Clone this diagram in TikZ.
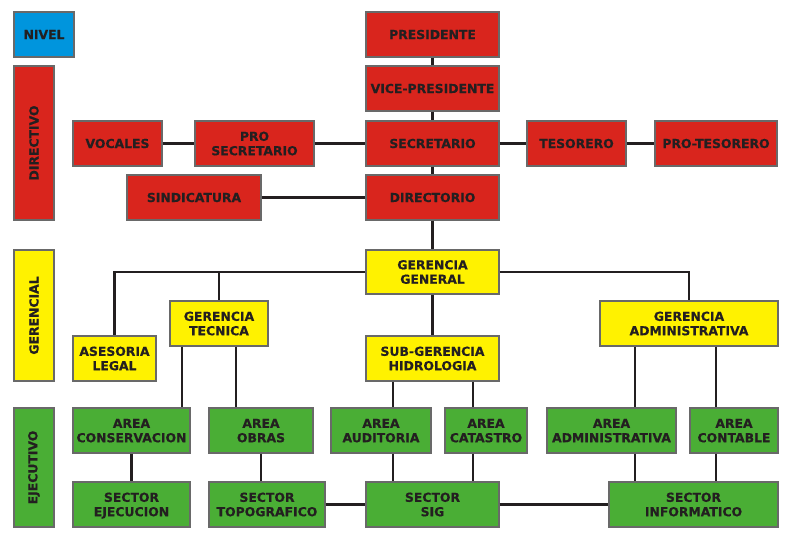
\documentclass[tikz,border=0pt]{standalone}
\usepackage{fontspec}
\setmainfont{DejaVu Sans}[BoldFeatures={FakeBold=0.5}]
\definecolor{rojo}{RGB}{217,37,29}
\definecolor{amarillo}{RGB}{255,242,0}
\definecolor{verde}{RGB}{74,174,53}
\definecolor{celeste}{RGB}{0,149,221}
\definecolor{borde}{RGB}{105,105,105}
\definecolor{tinta}{RGB}{35,31,32}
\begin{document}
\begin{tikzpicture}[x=0.75pt,y=0.75pt,yscale=-1,xscale=1,
    caja/.style={draw=borde, line width=0.8pt, inner sep=0pt, align=center, text=tinta,
                 minimum height=33.75pt, text height=6.8pt, text depth=0pt,
                 font=\bfseries\fontsize{9.3}{10.8}\selectfont},
    doble/.style={text height=17.6pt},
    cajaroja/.style={caja, fill=rojo},
    cajaamarilla/.style={caja, fill=amarillo},
    cajaverde/.style={caja, fill=verde},
    enlace/.style={draw=tinta, line width=1.9pt}]
            \useasboundingbox (0,0) rectangle (791,541);

            %Shape: Niveles
            \node (nivel) [caja, fill=celeste, minimum width=45pt] at (44,34.5) {NIVEL};
            \node (directivo) [cajaroja, text height=, text depth=, minimum width=30pt, minimum height=115.5pt] at (34,143) {\rotatebox{90}{DIRECTIVO}};
            \node (gerencial) [cajaamarilla, text height=, text depth=, minimum width=30pt, minimum height=98.25pt] at (34,315.5) {\rotatebox{90}{GERENCIAL}};
            \node (ejecutivo) [cajaverde, text height=, text depth=, minimum width=30pt, minimum height=89.25pt] at (34,467.5) {\rotatebox{90}{EJECUTIVO}};

            %Shape: Directivo
            \node (pres) [cajaroja, minimum width=99.75pt] at (432.5,34.5) {PRESIDENTE};
            \node (vice) [cajaroja, minimum width=99.75pt] at (432.5,88.5) {VICE-PRESIDENTE};
            \node (secr) [cajaroja, minimum width=99.75pt] at (432.5,143.5) {SECRETARIO};
            \node (dirio) [cajaroja, minimum width=99.75pt] at (432.5,197.5) {DIRECTORIO};
            \node (voc) [cajaroja, minimum width=66.75pt] at (117.5,143.5) {VOCALES};
            \node (prosec) [cajaroja, doble, minimum width=89.25pt] at (254.5,143.5) {PRO\\SECRETARIO};
            \node (tes) [cajaroja, minimum width=74.25pt] at (576.5,143.5) {TESORERO};
            \node (protes) [cajaroja, minimum width=91.5pt] at (716,143.5) {PRO-TESORERO};
            \node (sind) [cajaroja, minimum width=100.5pt] at (194,197.5) {SINDICATURA};

            %Shape: Gerencial
            \node (gg) [cajaamarilla, doble, minimum width=99.75pt, minimum height=33pt] at (432.5,272) {GERENCIA\\GENERAL};
            \node (ases) [cajaamarilla, doble, minimum width=62.25pt] at (114.5,358.5) {ASESORIA\\LEGAL};
            \node (gtec) [cajaamarilla, doble, minimum width=73.5pt] at (219,323.5) {GERENCIA\\TECNICA};
            \node (sgh) [cajaamarilla, doble, minimum width=99.75pt] at (432.5,358.5) {SUB-GERENCIA\\HIDROLOGIA};
            \node (gadm) [cajaamarilla, doble, minimum width=133.5pt] at (689,323.5) {GERENCIA\\ADMINISTRATIVA};

            %Shape: Ejecutivo
            \node (acons) [cajaverde, doble, minimum width=87.75pt] at (131.5,430.5) {AREA\\CONSERVACION};
            \node (aobr) [cajaverde, doble, minimum width=78pt] at (261,430.5) {AREA\\OBRAS};
            \node (aaud) [cajaverde, doble, minimum width=75pt] at (381,430.5) {AREA\\AUDITORIA};
            \node (acat) [cajaverde, doble, minimum width=61.5pt] at (486,430.5) {AREA\\CATASTRO};
            \node (aadm) [cajaverde, doble, minimum width=96.75pt] at (611.5,430.5) {AREA\\ADMINISTRATIVA};
            \node (acont) [cajaverde, doble, minimum width=66pt] at (734,430.5) {AREA\\CONTABLE};
            \node (sej) [cajaverde, doble, minimum width=87.75pt] at (131.5,504.5) {SECTOR\\EJECUCION};
            \node (stopo) [cajaverde, doble, minimum width=87pt] at (267,504.5) {SECTOR\\TOPOGRAFICO};
            \node (ssig) [cajaverde, doble, minimum width=99.75pt] at (432.5,504.5) {SECTOR\\SIG};
            \node (sinf) [cajaverde, doble, minimum width=126.75pt] at (693.5,504.5) {SECTOR\\INFORMATICO};

            %Straight Lines: Directivo
            \draw [enlace] (pres.south) -- (vice.north);
            \draw [enlace] (vice.south) -- (secr.north);
            \draw [enlace] (secr.south) -- (dirio.north);
            \draw [enlace] (dirio.south) -- (gg.north);
            \draw [enlace] (voc.east) -- (prosec.west);
            \draw [enlace] (prosec.east) -- (secr.west);
            \draw [enlace] (secr.east) -- (tes.west);
            \draw [enlace] (tes.east) -- (protes.west);
            \draw [enlace] (sind.east) -- (dirio.west);

            %Straight Lines: Gerencial
            \draw [enlace] (gg.west) -| (ases.north);
            \draw [enlace] (gtec.north |- gg.west) -- (gtec.north);
            \draw [enlace] (gg.east) -| (gadm.north);
            \draw [enlace] (gg.south) -- (sgh.north);

            %Straight Lines: Ejecutivo
            \draw [enlace] (gtec.south -| 182,0) -- (acons.north -| 182,0);
            \draw [enlace] (gtec.south -| 236,0) -- (aobr.north -| 236,0);
            \draw [enlace] (sgh.south -| 393,0) -- (aaud.north -| 393,0);
            \draw [enlace] (sgh.south -| 473,0) -- (acat.north -| 473,0);
            \draw [enlace] (gadm.south -| 635,0) -- (aadm.north -| 635,0);
            \draw [enlace] (gadm.south -| 716,0) -- (acont.north -| 716,0);
            \draw [enlace] (acons.south) -- (sej.north);
            \draw [enlace] (aobr.south) -- (aobr.south |- stopo.north);
            \draw [enlace] (aaud.south -| 393,0) -- (ssig.north -| 393,0);
            \draw [enlace] (acat.south -| 473,0) -- (ssig.north -| 473,0);
            \draw [enlace] (aadm.south -| 635,0) -- (sinf.north -| 635,0);
            \draw [enlace] (acont.south -| 716,0) -- (sinf.north -| 716,0);
            \draw [enlace] (stopo.east) -- (ssig.west);
            \draw [enlace] (ssig.east) -- (sinf.west);
        \end{tikzpicture}
\end{document}
